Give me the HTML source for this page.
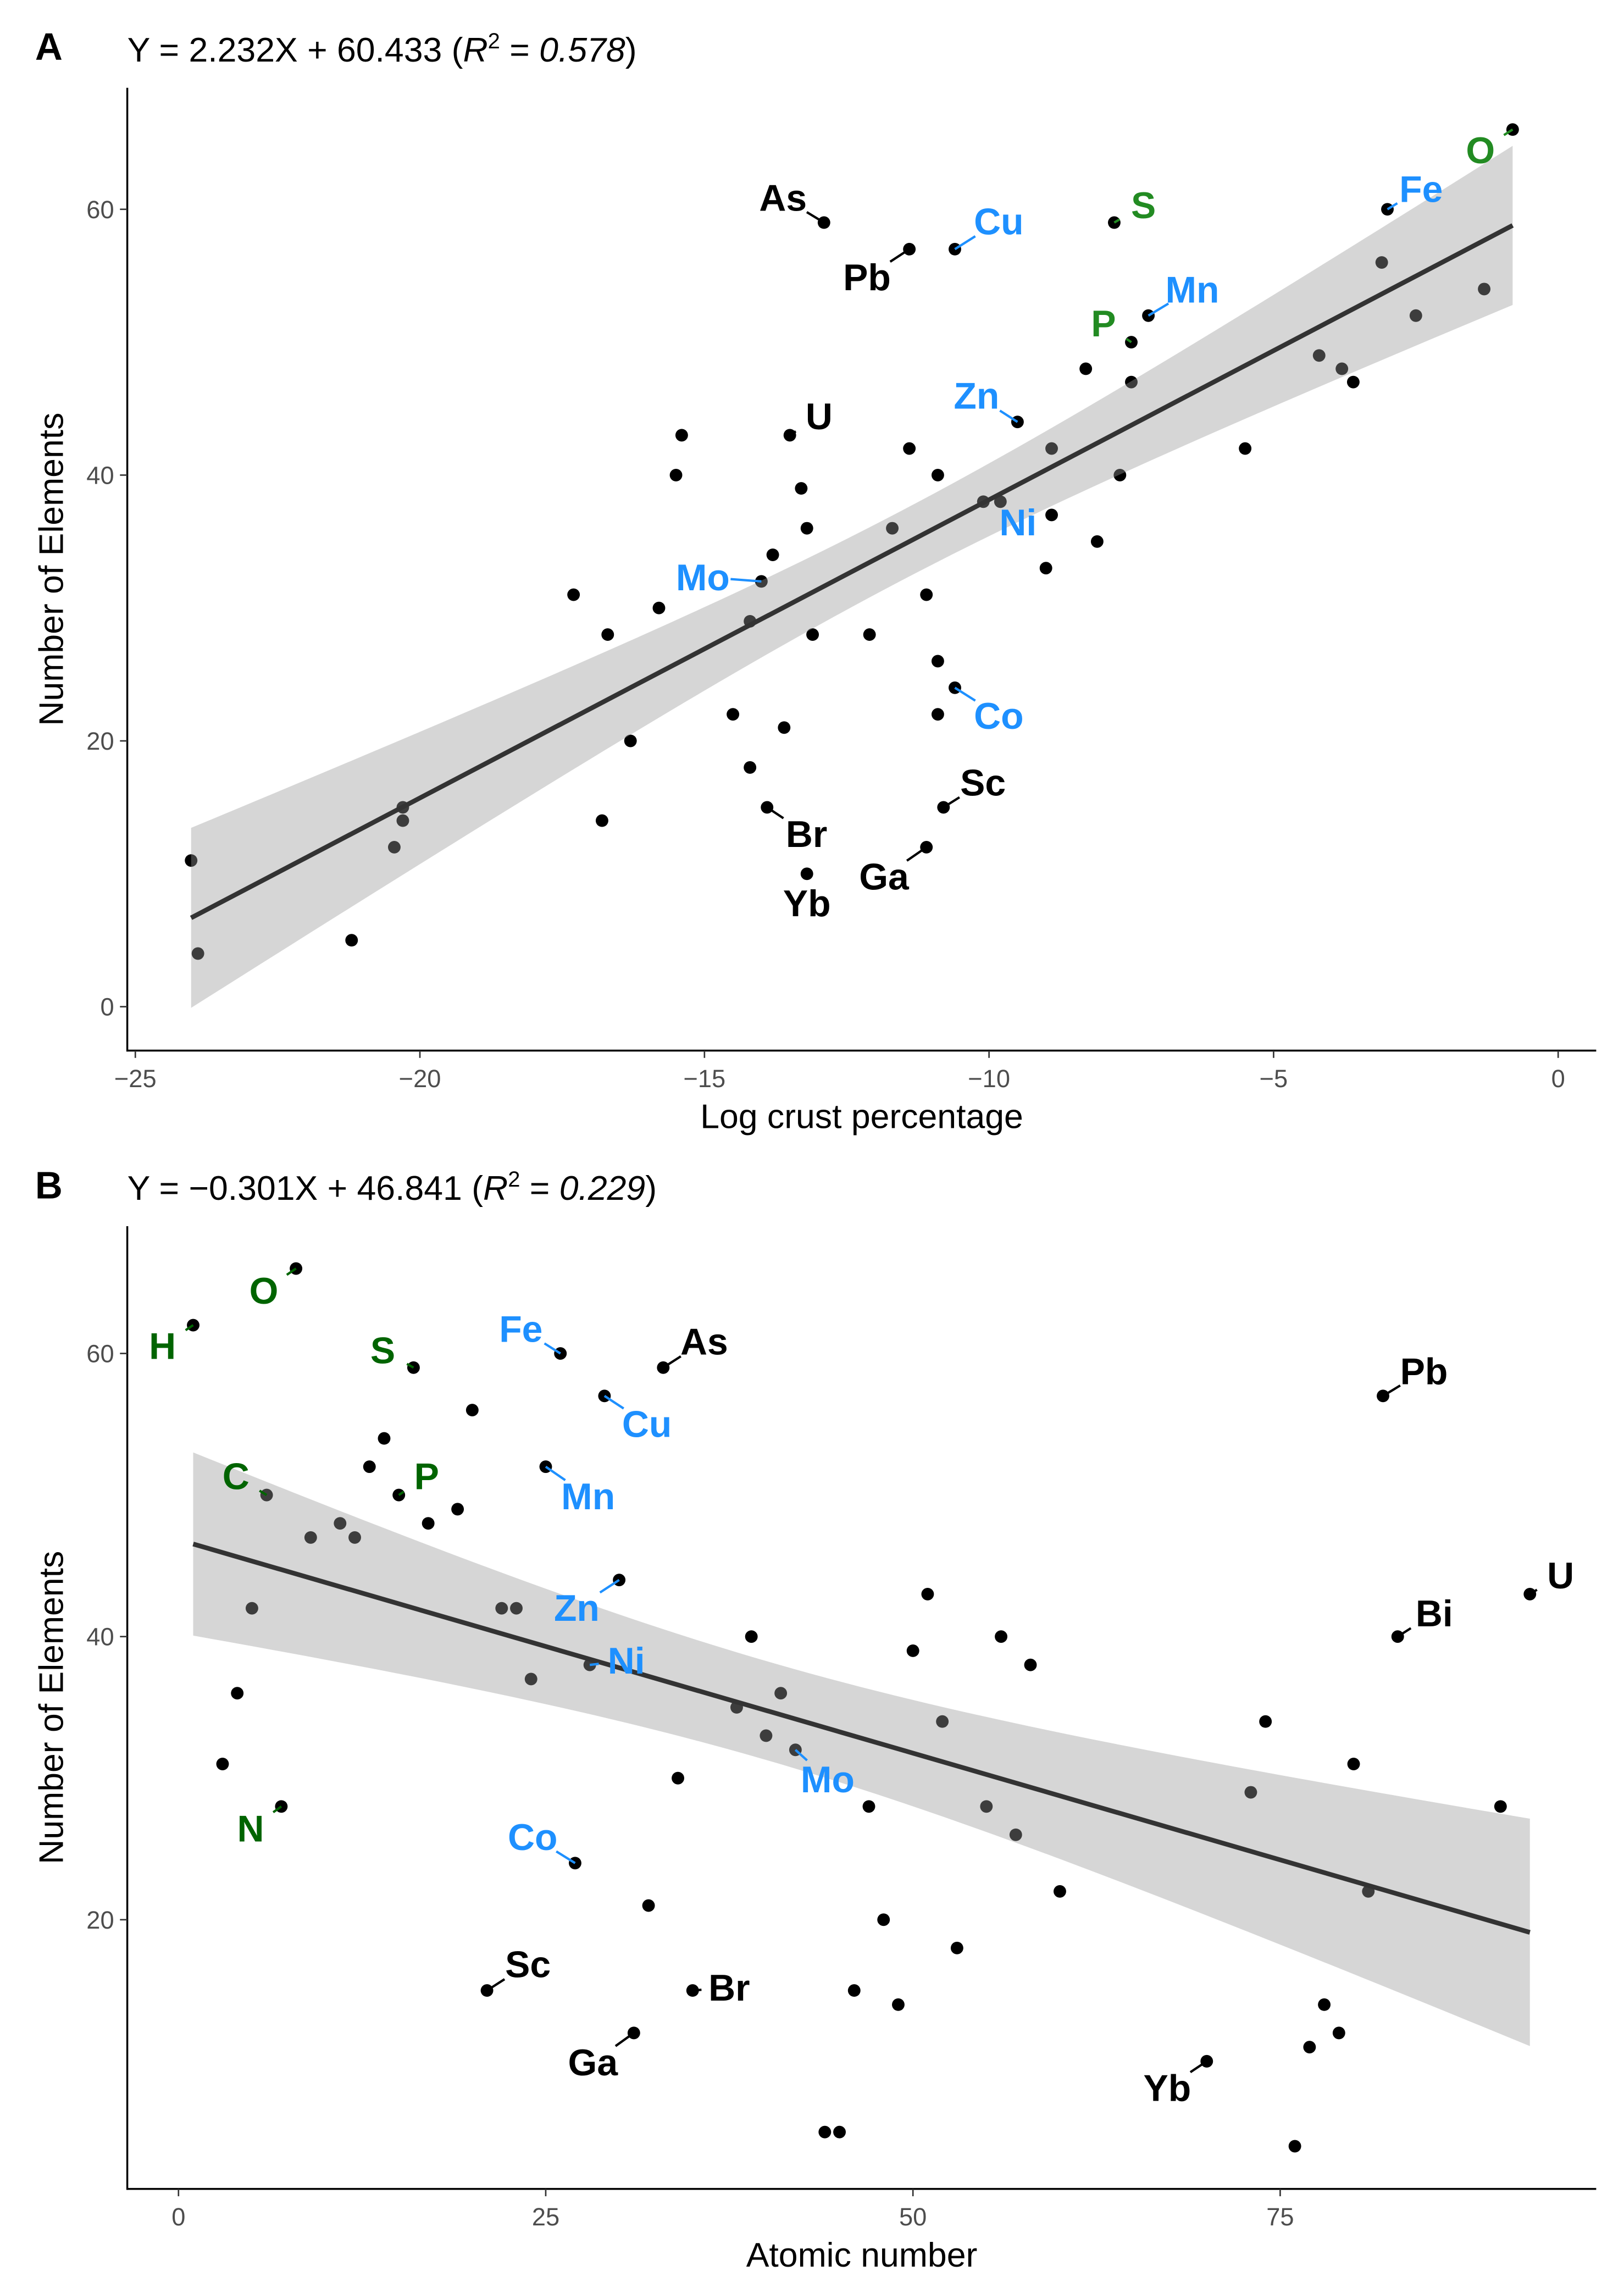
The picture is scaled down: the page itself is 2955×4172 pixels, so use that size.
<!DOCTYPE html>
<html><head><meta charset="utf-8"><style>
html,body{margin:0;padding:0;background:#fff;}
svg{display:block;font-family:"Liberation Sans",Arial,sans-serif;}
</style></head><body>
<svg id="fig" width="2955" height="4172" viewBox="0 0 1110 1567.1" xmlns="http://www.w3.org/2000/svg"></svg>
<script>
// ---------- Panel A data ----------
const crustX = [-24.02,-23.9,-21.2,-20.3,-20.3,-20.45,-16.8,-17.3,-16.7,-16.3,-15.8,-15.5,-15.4,-14.5,-14.2,-14.2,-14.0,-13.9,-13.8,-13.6,-13.5,-13.3,-13.2,-13.2,-13.1,-12.9,-12.1,-11.7,-11.4,-11.4,-11.1,-11.1,-10.9,-10.9,-10.9,-10.8,-10.6,-10.6,-10.1,-9.8,-9.5,-9.0,-8.9,-8.9,-8.3,-8.1,-7.8,-7.7,-7.5,-7.5,-7.2,-5.5,-4.2,-3.8,-3.6,-3.1,-3.0,-2.5,-1.3,-0.8];
const crustY = [11,4,5,15,14,12,14,31,28,20,30,40,43,22,18,29,32,15,34,21,43,39,36,10,28,59,28,36,57,42,12,31,40,26,22,15,24,57,38,38,44,33,37,42,48,35,59,40,47,50,52,42,49,48,47,56,60,52,54,66];
const crustLab = ["","","","","","","","","","","","","","","","","Mo","Br","","","U","","","Yb","","As","","","Pb","","Ga","","","","","Sc","Co","Cu","","Ni","Zn","","","","","","S","","","P","Mn","","","","","","Fe","","","O"];
const crustEq = "Y = 2.232X + 60.433 (";
const labA = {As:[-28,-17,"#000"],Pb:[-29,19,"#000"],Cu:[30,-19,"#1E90FF"],S:[20,-12,"#228B22"],Mn:[30,-18,"#1E90FF"],P:[-19,-13,"#228B22"],Fe:[23,-14,"#1E90FF"],O:[-22,14,"#228B22"],U:[20,-13,"#000"],Zn:[-28,-18,"#1E90FF"],Ni:[12,14,"#1E90FF"],Mo:[-40,-3,"#1E90FF"],Co:[30,19,"#1E90FF"],Sc:[27,-17,"#000"],Br:[27,18,"#000"],Ga:[-29,20,"#000"],Yb:[0,20,"#000"]};

// ---------- Panel B data ----------
const atomX = [1,8,16,26,33,29,6,15,25,82,92,83,30,28,42,7,27,21,35,31,70,14,20,13,19,17,11,12,9,5,4,3,22,23,24,32,34,38,39,40,41,44,45,46,47,48,49,50,51,53,52,56,55,57,58,60,73,74,76,77,78,79,80,81,90];
const atomY = [62,66,59,60,59,57,50,50,52,57,43,40,44,38,32,28,24,15,15,12,10,54,56,52,49,48,48,47,47,42,36,31,42,42,37,21,30,35,40,33,36,5,5,15,28,20,14,39,43,18,34,40,28,26,38,22,29,34,4,11,14,12,31,22,28];
const atomLab = ["H","O","S","Fe","As","Cu","C","P","Mn","Pb","U","Bi","Zn","Ni","Mo","N","Co","Sc","Br","Ga","Yb"];
const labB = {H:[-21,14,"#006400"],O:[-22,15,"#006400"],S:[-21,-12,"#006400"],Fe:[-27,-17,"#1E90FF"],As:[28,-18,"#000"],Cu:[29,19,"#1E90FF"],C:[-21,-13,"#006400"],P:[19,-13,"#006400"],Mn:[29,20,"#1E90FF"],Pb:[28,-17,"#000"],U:[21,-13,"#000"],Bi:[25,-16,"#000"],Zn:[-29,19,"#1E90FF"],Ni:[25,-3,"#1E90FF"],Mo:[22,20,"#1E90FF"],N:[-21,15,"#006400"],Co:[-29,-18,"#1E90FF"],Sc:[28,-18,"#000"],Br:[25,-2,"#000"],Ga:[-28,20,"#000"],Yb:[-27,18,"#000"]};

const NS="http://www.w3.org/2000/svg";
const svg=document.getElementById('fig');
function mk(tag,attrs,parent,text){const e=document.createElementNS(NS,tag);for(const k in attrs)e.setAttribute(k,attrs[k]);if(text!==undefined)e.textContent=text;(parent||svg).appendChild(e);return e;}

function fit(xs,ys){const n=xs.length;let mx=0,my=0;xs.forEach((v,i)=>{mx+=v;my+=ys[i];});mx/=n;my/=n;let sxx=0,sxy=0;xs.forEach((v,i)=>{sxx+=(v-mx)**2;sxy+=(v-mx)*(ys[i]-my);});const b=sxy/sxx,a=my-b*mx;let sse=0;xs.forEach((v,i)=>{sse+=(ys[i]-a-b*v)**2;});const s=Math.sqrt(sse/(n-2));return {a,b,s,mx,sxx,n};}

function panel(o){
  const g=mk('g',{});
  
  
  const X=o.X,Y=o.Y;
  const pts=mk('g',{},g);
  
  
  o.xs.forEach((v,i)=>{
    const c=mk('circle',{cx:X(v),cy:Y(o.ys[i]),r:4.3,fill:'#000'},pts);
    
    
  });
  const f=fit(o.xs,o.ys);
  const x0=Math.min(...o.xs),x1=Math.max(...o.xs);
  const up=[],lo=[];
  for(let k=0;k<=80;k++){const x=x0+(x1-x0)*k/80;const yh=f.a+f.b*x;const se=f.s*Math.sqrt(1/f.n+(x-f.mx)**2/f.sxx);up.push([X(x),Y(yh+2.0*se)]);lo.push([X(x),Y(yh-2.0*se)]);}
  const poly=up.concat(lo.reverse()).map(p=>p.join(',')).join(' ');
  const band=mk('polygon',{points:poly,fill:'#999',opacity:0.4},g);
  
  
  const ln=mk('line',{x1:X(x0),y1:Y(f.a+f.b*x0),x2:X(x1),y2:Y(f.a+f.b*x1),stroke:'#333',"stroke-width":3.2},g);
  
  
  o.labs.forEach((lab,i)=>{
    const xi=o.labIdx(lab,i); if(xi<0)return;
    const spec=o.labMap[lab]; if(!spec)return;
    const px=X(o.xs[xi]),py=Y(o.ys[xi]);
    const tx=px+spec[0],ty=py+spec[1];
    const dx=tx-px,dy=ty-py,d=Math.hypot(dx,dy);
    const e=Math.max(0,d-19)/d;
    const seg=mk('line',{x1:px,y1:py,x2:px+dx*e,y2:py+dy*e,stroke:spec[2],"stroke-width":1.6},g);
    
    
    const t=mk('text',{x:tx,y:ty+9,"text-anchor":"middle","font-size":25.5,"font-weight":"bold",fill:spec[2]},g,lab);
    
    
  });
  const ax=mk('g',{},g);
  
  
  mk('line',{x1:87,y1:o.top,x2:87,y2:o.bottom+0.6,stroke:'#000',"stroke-width":1.3},ax);
  mk('line',{x1:86.4,y1:o.bottom,x2:1091,y2:o.bottom,stroke:'#000',"stroke-width":1.3},ax);
  o.xt.forEach((v,i)=>{
    mk('line',{x1:X(v),y1:o.bottom,x2:X(v),y2:o.bottom+5,stroke:'#333',"stroke-width":1},ax);
    const t=mk('text',{x:X(v),y:o.bottom+25,"text-anchor":"middle","font-size":17,fill:'#4d4d4d'},ax,o.xtl[i]);
    
    
  });
  o.yt.forEach((v,i)=>{
    mk('line',{x1:82,y1:Y(v),x2:87,y2:Y(v),stroke:'#333',"stroke-width":1},ax);
    const t=mk('text',{x:78,y:Y(v)+6,"text-anchor":"end","font-size":17,fill:'#4d4d4d'},ax,o.ytl[i]);
    
    
  });
  const xtitle=mk('text',{x:589,y:o.bottom+53,"text-anchor":"middle","font-size":23.5,fill:'#000'},ax,o.xTitle);
  
  
  const yc=(o.top+o.bottom)/2;
  const ytitle=mk('text',{x:0,y:0,"text-anchor":"middle","font-size":23.5,fill:'#000',transform:`translate(43,${yc}) rotate(-90)`},ax,'Number of Elements');
  
  
  const L=mk('text',{x:24,y:o.titleY,"font-size":26,"font-weight":"bold",fill:'#000'},g,o.letter);
  
  
  const eq=mk('text',{x:87,y:o.titleY+1,"font-size":23.5,fill:'#000'},g);
  
  
  mk('tspan',{},eq,o.eq);
  mk('tspan',{"font-style":"italic"},eq,'R');
  mk('tspan',{"font-size":15,dy:-9},eq,'2');
  mk('tspan',{dy:9},eq,' = ');
  mk('tspan',{"font-style":"italic"},eq,o.r2);
  mk('tspan',{},eq,')');
}

panel({name:'panel-a',xs:crustX,ys:crustY,X:v=>1065+38.9*v,Y:v=>688-9.083*v,top:60,bottom:718,
  labs:crustLab,labIdx:(l,i)=>l?i:-1,labMap:labA,
  xt:[-25,-20,-15,-10,-5,0],xtl:["\u221225","\u221220","\u221215","\u221210","\u22125","0"],
  yt:[0,20,40,60],ytl:["0","20","40","60"],xTitle:'Log crust percentage',letter:'A',titleY:41,eq:crustEq,r2:'0.578'});
panel({name:'panel-b',xs:atomX,ys:atomY,X:v=>122+10.04*v,Y:v=>1505.5-9.675*v,top:838,bottom:1496,
  labs:atomLab,labIdx:(l,i)=>i,labMap:labB,
  xt:[0,25,50,75],xtl:["0","25","50","75"],
  yt:[20,40,60],ytl:["20","40","60"],xTitle:'Atomic number',letter:'B',titleY:819,eq:'Y = \u22120.301X + 46.841 (',r2:'0.229'});
</script>
</body></html>
